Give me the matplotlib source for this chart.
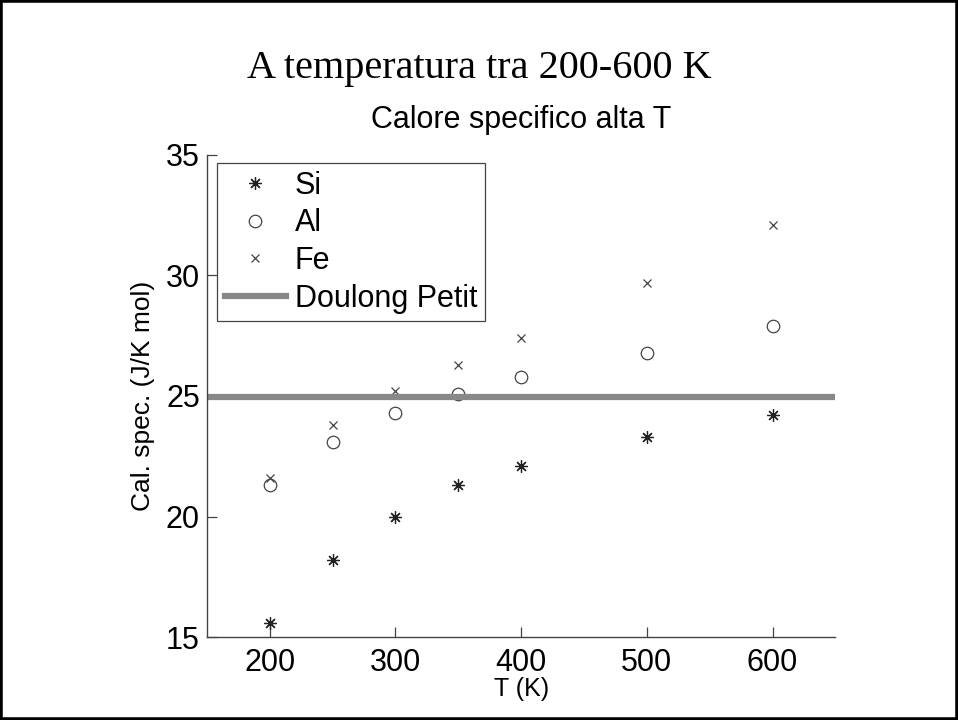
import matplotlib
matplotlib.use("Agg")
import matplotlib.pyplot as plt
from matplotlib.patches import Rectangle

# temperature (K)
T = [200, 250, 300, 350, 400, 500, 600]

# specific heat (J/K mol)
cp_si = [15.6, 18.2, 20.0, 21.3, 22.1, 23.3, 24.2]
cp_al = [21.3, 23.1, 24.3, 25.1, 25.8, 26.8, 27.9]
cp_fe = [21.6, 23.8, 25.2, 26.3, 27.4, 29.7, 32.1]

# Dulong-Petit limit 3R
dp_value = 24.94

x_ticks = [200, 300, 400, 500, 600]
y_ticks = [15, 20, 25, 30, 35]

plt.rcParams['font.family'] = ['Liberation Sans', 'DejaVu Sans']

fig = plt.figure(figsize=(9.58, 7.2), dpi=100)
ax = fig.add_axes([0.216, 0.115, 0.656, 0.67])

ax.plot(T, cp_si, linestyle='none', marker=(8, 2, 0), markersize=9,
        markeredgecolor='#222222', markeredgewidth=0.9, label='Si')
ax.plot(T, cp_al, linestyle='none', marker='o', markersize=9,
        markerfacecolor='none', markeredgecolor='#444444', markeredgewidth=0.9, label='Al')
ax.plot(T, cp_fe, linestyle='none', marker='x', markersize=6,
        markeredgecolor='#444444', markeredgewidth=0.9, label='Fe')
ax.axhline(dp_value, color='#888888', linewidth=4.5, label='Doulong Petit')

ax.set_xlim(150, 650)
ax.set_ylim(15, 35)
ax.set_xticks(x_ticks)
ax.set_yticks(y_ticks)

for side in ['top', 'right']:
    ax.spines[side].set_visible(False)
for side in ['left', 'bottom']:
    ax.spines[side].set_color('#444444')
    ax.spines[side].set_linewidth(1.0)

ax.tick_params(direction='in', length=7, width=0.9, color='#444444', labelsize=22)
ax.tick_params(axis='x', pad=8)
ax.tick_params(axis='y', pad=5)

ax.set_xlabel('T (K)', fontsize=18, labelpad=-1)
ax.set_ylabel('Cal. spec. (J/K mol)', fontsize=19, labelpad=8)
ax.set_title('Calore specifico alta T', fontsize=22, pad=19)

leg = ax.legend(loc='upper left', bbox_to_anchor=(0.016, 0.983), borderaxespad=0,
                fontsize=22, handlelength=2.0, handletextpad=0.3, labelspacing=0.25,
                fancybox=False, framealpha=1, edgecolor='#444444', borderpad=0.25)
leg.get_frame().set_linewidth(0.9)

fig.text(0.5, 0.905, 'A temperatura tra 200-600 K', ha='center', va='center',
         fontsize=29, family='Liberation Serif')

# black frame round the slide
fig.patches.append(Rectangle((0, 0), 1, 1, transform=fig.transFigure, fill=False,
                             edgecolor='black', linewidth=4, zorder=10))

fig.savefig('out.png', dpi=100)
